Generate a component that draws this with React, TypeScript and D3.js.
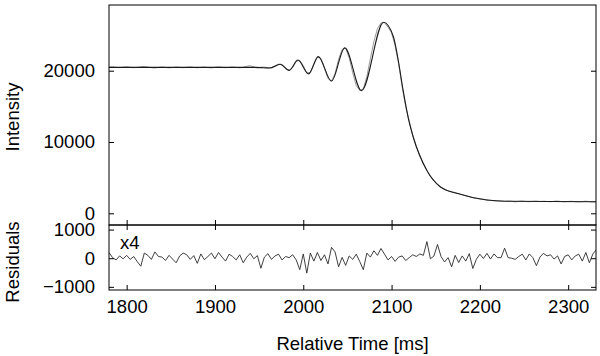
import React, { useRef, useEffect } from 'react';
import * as d3 from 'd3';

// measured intensity, one sample every 4 ms starting at 1780 ms
const startTime = 1780;
const stepMs = 4;
const intensity = [
  20500, 20540, 20470, 20430, 20500, 20560, 20480, 20420, 20470, 20550,
  20600, 20510, 20430, 20380, 20460, 20520, 20460, 20400, 20450, 20510,
  20470, 20420, 20480, 20530, 20460, 20410, 20470, 20520, 20440, 20400,
  20470, 20540, 20480, 20420, 20470, 20520, 20460, 20400, 20480, 20620,
  20700, 20520, 20400, 20480, 20510, 20400, 20450, 20700, 20930, 20800,
  20350, 20050, 20450, 21300, 21450, 20700, 19700, 19750, 20900, 21950,
  21700, 20300, 18900, 18550, 19600, 21600, 23000, 23150, 21800, 19700,
  17900, 17250, 17450, 19200, 21700, 24100, 25900, 26700, 26750, 26100,
  25300, 23500, 21000, 17700, 15000, 12900, 10900, 9400, 8100, 6950,
  6000, 5200, 4550, 4050, 3650, 3400, 3150, 2950, 2850, 2750,
  2600, 2450, 2350, 2200, 2100, 2000, 1950, 1870, 1800, 1760,
  1720, 1700, 1660, 1720, 1690, 1600, 1680, 1720, 1650, 1620,
  1680, 1700, 1640, 1680, 1660, 1620, 1690, 1720, 1650, 1610,
  1660, 1690, 1630, 1600, 1650, 1700, 1640, 1580, 1620
];

// fitted curve, key points
const fitTimes = [
  1780, 1830, 1880, 1920, 1945, 1955, 1962, 1974, 1984, 1994,
  2006, 2017, 2032, 2047, 2066, 2091, 2102, 2107.5, 2113, 2119,
  2124.5, 2140, 2155, 2174, 2208, 2230, 2280, 2332
];
const fitValues = [
  20460, 20460, 20460, 20460, 20460, 20420, 20380, 20900, 20050, 21500,
  19550, 21980, 18550, 23200, 17200, 26800, 24800, 21500, 17300, 13300,
  10700, 6000, 3730, 2800, 1860, 1690, 1650, 1610
];

// residuals (x4), same sampling as intensity
const residuals = [
  200, 20, -60, 80, -20, 100, -40, 60, -120, -280,
  180, 100, -40, 220, 60, 40, -80, 100, -30, -160,
  80, 180, 120, -40, 90, -180, 150, -50, 60, 180,
  -20, 200, 40, -100, 140, 60, -60, 120, -160, 40,
  170, -20, 90, -350, 40, 160, -40, 80, 140, -60,
  60, 20, 120, -60, -400, 150, -520, 180, -100, 200,
  -80, 120, -200, 380, 220, -300, 30, -250, 80, -40,
  140, -120, -400, 180, 40, 260, 100, 340, 140, -60,
  60, -110, 40, 80, -80, 20, 120, 60, 150, 100,
  580, -20, 80, 480, 60, -130, 20, -300, 100, -150,
  80, -100, 160, -360, -40, 140, -10, 170, -30, 150,
  20, 20, 350, 20, 0, -40, 60, 140, -60, 150,
  20, -260, 40, 170, 80, 120, -30, 80, -200, 60,
  120, -60, 80, 140, -100, 200, -160, 150, 300
];

const xTicks = [1800, 1900, 2000, 2100, 2200, 2300];
const intensityTicks = [0, 10000, 20000];
const residualTicks = [-1000, 0, 1000];

const FONT = '"Liberation Sans", Arial, Helvetica, sans-serif';
const FS = '18.5px';

export default function App() {
  const ref = useRef<SVGSVGElement>(null);
  const width = 600;
  const height = 356;

  useEffect(() => {
    const svg = d3.select(ref.current);
    svg.selectAll('*').remove();

    const left = 109, right = 596, top = 5, mid = 225, bottom = 290;

    const x = d3.scaleLinear().domain([1780, 2331.5]).range([left, right]);
    const yTop = d3.scaleLinear().domain([-1640, 29215]).range([mid, top]);
    const yRes = d3.scaleLinear().domain([-1110, 1160]).range([bottom, mid]);

    const times = intensity.map((_, i) => startTime + i * stepMs);

    svg.append('rect').attr('width', width).attr('height', height).attr('fill', '#fff');

    const defs = svg.append('defs');
    defs.append('clipPath').attr('id', 'clipTop')
      .append('rect').attr('x', left).attr('y', top).attr('width', right - left).attr('height', mid - top);
    defs.append('clipPath').attr('id', 'clipRes')
      .append('rect').attr('x', left).attr('y', mid).attr('width', right - left).attr('height', bottom - mid);

    // data line
    svg.append('path')
      .datum(intensity)
      .attr('clip-path', 'url(#clipTop)')
      .attr('fill', 'none')
      .attr('stroke', '#9a9a9a')
      .attr('stroke-width', 1)
      .attr('d', d3.line<number>()
        .x((_, i) => x(times[i]))
        .y(d => yTop(d)));

    // fit line
    svg.append('path')
      .datum(fitValues)
      .attr('clip-path', 'url(#clipTop)')
      .attr('fill', 'none')
      .attr('stroke', '#1a1a1a')
      .attr('stroke-width', 1.1)
      .attr('d', d3.line<number>()
        .curve(d3.curveMonotoneX)
        .x((_, i) => x(fitTimes[i]))
        .y(d => yTop(d)));

    // residuals
    svg.append('path')
      .datum(residuals)
      .attr('clip-path', 'url(#clipRes)')
      .attr('fill', 'none')
      .attr('stroke', '#2a2a2a')
      .attr('stroke-width', 0.9)
      .attr('d', d3.line<number>()
        .x((_, i) => x(times[i]))
        .y(d => yRes(d)));

    const styleAxis = (g: any, labels: boolean) => {
      g.select('.domain').remove();
      g.selectAll('line').attr('stroke', '#000');
      g.selectAll('text')
        .attr('fill', '#000')
        .style('font-family', FONT)
        .style('font-size', FS);
      if (!labels) g.selectAll('text').remove();
    };

    // top panel axes
    svg.append('g').attr('transform', `translate(${left},0)`)
      .call(d3.axisLeft(yTop).tickValues(intensityTicks).tickSize(-5).tickPadding(14).tickFormat(d3.format('d')))
      .call((g: any) => styleAxis(g, true));
    svg.append('g').attr('transform', `translate(${right},0)`)
      .call(d3.axisRight(yTop).tickValues(intensityTicks).tickSize(-5))
      .call((g: any) => styleAxis(g, false));
    svg.append('g').attr('transform', `translate(0,${mid})`)
      .call(d3.axisBottom(x).tickValues(xTicks).tickSize(-5))
      .call((g: any) => styleAxis(g, false));

    // residual panel axes
    svg.append('g').attr('transform', `translate(${left},0)`)
      .call(d3.axisLeft(yRes).tickValues(residualTicks).tickSize(-5).tickPadding(14).tickFormat(d3.format('d')))
      .call((g: any) => styleAxis(g, true));
    svg.append('g').attr('transform', `translate(${right},0)`)
      .call(d3.axisRight(yRes).tickValues(residualTicks).tickSize(-5))
      .call((g: any) => styleAxis(g, false));
    svg.append('g').attr('transform', `translate(0,${mid})`)
      .call(d3.axisTop(x).tickValues(xTicks).tickSize(-5))
      .call((g: any) => styleAxis(g, false));
    svg.append('g').attr('transform', `translate(0,${bottom})`)
      .call(d3.axisBottom(x).tickValues(xTicks).tickSize(-5).tickPadding(10).tickFormat(d3.format('d')))
      .call((g: any) => styleAxis(g, true));

    // frames
    svg.append('rect')
      .attr('x', left).attr('y', top).attr('width', right - left).attr('height', mid - top)
      .attr('fill', 'none').attr('stroke', '#000').attr('stroke-width', 1);
    svg.append('rect')
      .attr('x', left).attr('y', mid).attr('width', right - left).attr('height', bottom - mid)
      .attr('fill', 'none').attr('stroke', '#000').attr('stroke-width', 1);

    // titles
    const title = (tx: number, ty: number, rot: number, txt: string) =>
      svg.append('text')
        .attr('transform', `translate(${tx},${ty}) rotate(${rot})`)
        .attr('text-anchor', 'middle')
        .attr('dominant-baseline', 'central')
        .style('font-family', FONT)
        .style('font-size', FS)
        .attr('fill', '#000')
        .text(txt);
    title(12, 117, -90, 'Intensity');
    title(12, 262, -90, 'Residuals');
    title((left + right) / 2, 343, 0, 'Relative Time [ms]');

    svg.append('text')
      .attr('x', 120).attr('y', 242)
      .attr('dominant-baseline', 'central')
      .style('font-family', FONT)
      .style('font-size', FS)
      .attr('fill', '#000')
      .text('x4');
  }, []);

  return (
    <div style={{ position: 'absolute', left: 0, top: 0 }}>
      <svg ref={ref} width={width} height={height} style={{ display: 'block' }} />
    </div>
  );
}
